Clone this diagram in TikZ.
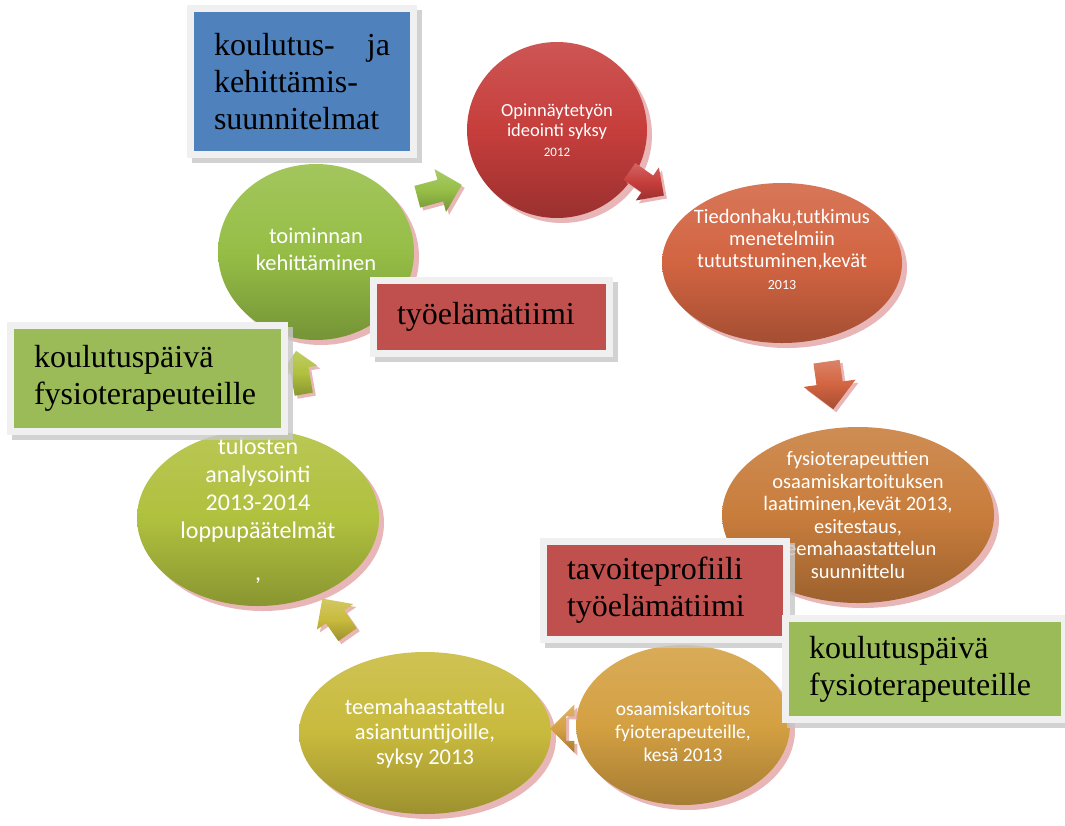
\documentclass[tikz,border=0pt]{standalone}
\usepackage{fontspec}
\newfontfamily\notefont{Liberation Serif}
\newfontfamily\bubfont{Carlito}
\usepackage{tikz}
\usetikzlibrary{shapes.geometric, shapes.arrows, shadows, calc}

\definecolor{cRed}{HTML}{C63E3C}
\definecolor{cRust}{HTML}{D26441}
\definecolor{cOrange}{HTML}{C87D3C}
\definecolor{cGold}{HTML}{D4A042}
\definecolor{cOlive}{HTML}{C8BA3C}
\definecolor{cLime}{HTML}{B0C03E}
\definecolor{cGreen}{HTML}{96BE46}
\definecolor{noteBlue}{HTML}{4F81BD}
\definecolor{noteRed}{HTML}{C0504D}
\definecolor{noteGreen}{HTML}{9BBB59}
\definecolor{frameGray}{HTML}{F0F0F0}
\definecolor{pinkShadow}{HTML}{E2A4A4}

\begin{document}
\begin{tikzpicture}[x=1pt, y=-1pt,
  bubble/.style={ellipse, inner sep=0pt, top color=#1!88!white, bottom color=#1!78!black, middle color=#1,
    drop shadow={shadow xshift=5pt, shadow yshift=-5pt, fill=pinkShadow, opacity=.8}},
  bubtxt/.style={align=center, text=white, inner sep=0pt},
  blk/.style={single arrow, inner xsep=0pt, inner ysep=11pt, single arrow head extend=11pt,
    top color=#1!80!white, bottom color=#1!78!black, middle color=#1,
    drop shadow={shadow xshift=3pt, shadow yshift=-3pt, fill=pinkShadow, opacity=.8}},
  note/.style={rectangle, fill=frameGray, inner xsep=27pt, inner ysep=0pt, align=left,
    font={\notefont\fontsize{32}{37}\selectfont},
    path picture={\fill[#1] ([shift={(7pt,-7pt)}]path picture bounding box.north west)
      rectangle ([shift={(-7pt,7pt)}]path picture bounding box.south east);},
    drop shadow={shadow xshift=5pt, shadow yshift=-5pt, fill=black!22, opacity=.8}}
]
  \useasboundingbox (0,0) rectangle (1065,825);

  % the cycle
  \node[bubble=cRed, minimum width=180pt, minimum height=176pt] (opin) at (557,130) {};
  \node[bubble=cRust, minimum width=240pt, minimum height=160pt] (tied) at (782,263) {};
  \node[bubble=cOrange, minimum width=272pt, minimum height=176pt] (fysio) at (858,515) {};
  \node[bubble=cGold, minimum width=214pt, minimum height=160pt] (osaam) at (683,725) {};
  \node[bubble=cOlive, minimum width=252pt, minimum height=162pt] (teema) at (425,733) {};
  \node[bubble=cLime, minimum width=242pt, minimum height=176pt] (tulos) at (258,518) {};
  \node[bubble=cGreen, minimum width=196pt, minimum height=176pt] (toimi) at (316,252) {};

  \node[bubtxt, font={\bubfont\fontsize{18.5}{20}\selectfont}] (opin-t) at (opin)
    {Opinnäytetyön\\ideointi syksy\\{\fontsize{13}{20}\selectfont 2012}};
  \node[bubtxt, font={\bubfont\fontsize{20.5}{22}\selectfont}] (tied-t) at ([shift={(0,-14)}]tied.center)
    {Tiedonhaku,tutkimus\\menetelmiin\\tututstuminen,kevät\\{\fontsize{14}{20}\selectfont 2013}};
  \node[bubtxt, font={\bubfont\fontsize{20.5}{22.6}\selectfont}] (fysio-t) at (fysio)
    {fysioterapeuttien\\osaamiskartoituksen\\laatiminen,kevät 2013,\\esitestaus,\\teemahaastattelun\\suunnittelu};
  \node[bubtxt, font={\bubfont\fontsize{19.5}{23}\selectfont}] (osaam-t) at ([shift={(0,7)}]osaam.center)
    {osaamiskartoitus\\fyioterapeuteille,\\kesä 2013};
  \node[bubtxt, font={\bubfont\fontsize{22.5}{25}\selectfont}] (teema-t) at (teema)
    {teemahaastattelu\\asiantuntijoille,\\syksy 2013};
  \node[bubtxt, font={\bubfont\fontsize{24}{28}\selectfont}] (tulos-t) at ([shift={(0,-7)}]tulos.center)
    {tulosten\\analysointi\\2013-2014\\loppupäätelmät\\[14pt],};
  \node[bubtxt, font={\bubfont\fontsize{22.5}{27}\selectfont}] (toimi-t) at ([shift={(0,-3)}]toimi.center)
    {toiminnan\\kehittäminen};

  % block arrows between the steps
  \node[blk=cGreen, minimum height=46pt, rotate=15] (a1) at ($(toimi)!0.49!(opin)$) {};
  \node[blk=cRed, minimum height=42pt, inner ysep=10pt, single arrow head extend=10pt, rotate=-35] (a2) at ($(opin)!0.38!(tied)$) {};
  \node[blk=cRust, minimum height=48pt, inner ysep=13pt, single arrow head extend=13pt, rotate=-82] (a3) at ([shift={(12,0)}]$(tied)!0.46!(fysio)$) {};
  \node[blk=cGold, minimum height=16pt, inner ysep=12pt, single arrow head extend=12pt, rotate=180] (a4) at ($(osaam)!0.46!(teema)$) {};
  \node[blk=cOlive, minimum height=44pt, rotate=125] (a5) at ($(teema)!0.52!(tulos)$) {};
  \node[blk=cLime, minimum height=44pt, inner ysep=9pt, single arrow head extend=9pt, rotate=100] (a6) at ([shift={(12,0)}]$(tulos)!0.53!(toimi)$) {};

  % notes
  \node[note=noteBlue, text width=176pt, minimum height=153pt] (plan) at (302,81.5)
    {koulutus-\hfill ja\\kehittämis-\\suunnitelmat};
  \node[note=noteRed, text width=189pt, minimum height=80pt] (team1) at (491.5,317) {työelämätiimi};
  \node[note=noteGreen, text width=227pt, minimum height=113pt] (day1) at (147.5,378.5)
    {koulutuspäivä\\fysioterapeuteille};
  \node[note=noteRed, text width=196pt, minimum height=105pt] (team2) at (665,590.5)
    {tavoiteprofiili\\työelämätiimi};
  \node[note=noteGreen, text width=232pt, minimum height=108pt] (day2) at (925,669)
    {koulutuspäivä\\fysioterapeuteille};

\end{tikzpicture}
\end{document}
